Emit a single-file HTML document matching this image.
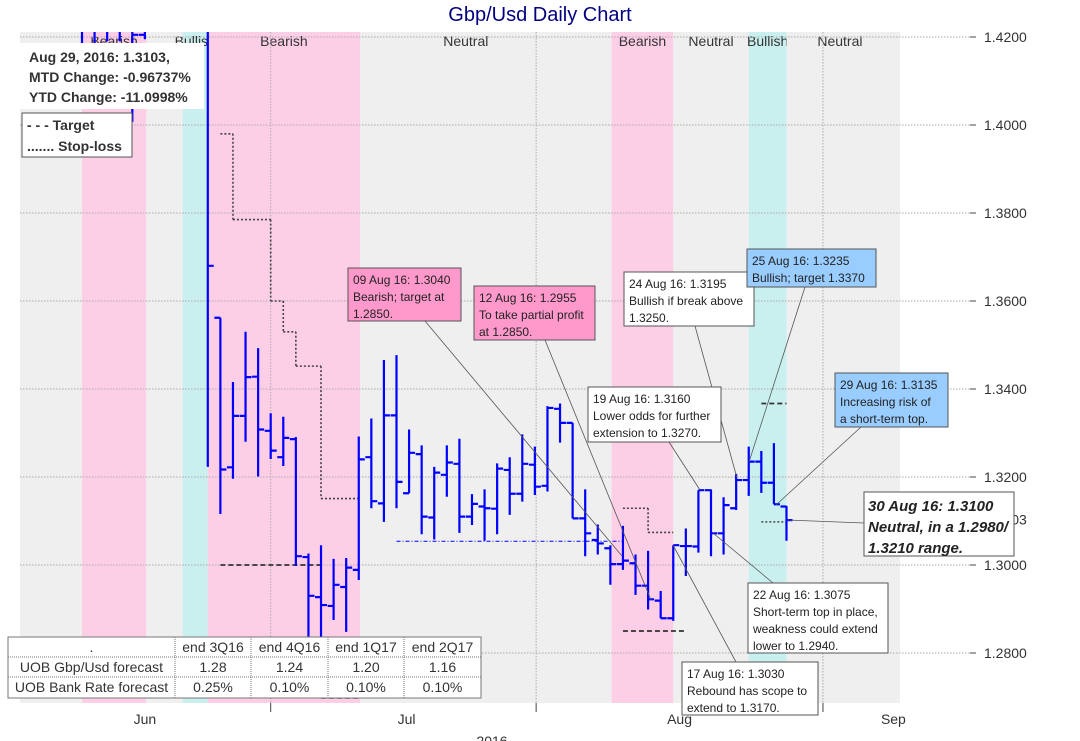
<!DOCTYPE html>
<html><head><meta charset="utf-8">
<style>
html,body{margin:0;background:#fff;overflow:hidden;}
svg{display:block;font-family:"Liberation Sans",sans-serif;}
.ann{font-size:12px;fill:#222;}
.annbig{font-size:15px;font-weight:bold;font-style:italic;fill:#222;}
.band{font-size:14px;fill:#333;}
.ax{font-size:14px;fill:#333;}
.tb{font-size:14px;fill:#333;}
</style></head>
<body>
<svg id="chart" width="1080" height="741" viewBox="0 0 1080 741">
<defs><clipPath id="plotclip"><rect x="20" y="32" width="880" height="671"/></clipPath></defs>
<g id="bg"></g>
<g id="grid"></g>
<g id="lines" clip-path="url(#plotclip)"></g>
<g id="bars" clip-path="url(#plotclip)"></g>
<g id="axis"></g>
<g id="anns"></g>
<text x="540" y="21" text-anchor="middle" font-size="20" fill="#000080">Gbp/Usd Daily Chart</text>
<g>
<rect x="20" y="43" width="184" height="66" fill="#fff"/>
<text x="29" y="62" font-size="14" font-weight="bold" fill="#333">Aug 29, 2016:  1.3103,</text>
<text x="29" y="82" font-size="14" font-weight="bold" fill="#333">MTD Change:  -0.96737%</text>
<text x="29" y="102" font-size="14" font-weight="bold" fill="#333">YTD Change:  -11.0998%</text>
</g>
<g>
<rect x="22" y="113" width="110" height="44" fill="#fff" stroke="#555"/>
<text x="27" y="130" font-size="14" font-weight="bold" fill="#333">- - -  Target</text>
<text x="27" y="151" font-size="14" font-weight="bold" fill="#333">....... Stop-loss</text>
</g>
<g id="table"></g>
</svg>
<script>
// ---- data ----
const opens  = [1.4300,1.4260,1.4280,1.4230,1.4280,1.4205,1.4260,1.4350,1.4400,1.4650,1.4877,1.3562,1.3222,1.3339,1.3428,1.3305,1.3245,1.3286,1.3018,1.2927,1.2907,1.2950,1.2989,1.3245,1.3140,1.3340,1.3163,1.3252,1.3108,1.3205,1.3230,1.3110,1.3133,1.3128,1.3216,1.3162,1.3228,1.3180,1.3355,1.3323,1.3106,1.3057,1.3038,1.3002,1.3004,1.2953,1.2919,1.2879,1.3043,1.3042,1.3170,1.3072,1.3129,1.3193,1.3235,1.3187,1.3133];
const highs  = [1.4350,1.4320,1.4350,1.4300,1.4310,1.4290,1.4400,1.4500,1.4700,1.4880,1.5018,1.3562,1.3416,1.3530,1.3493,1.3345,1.3337,1.3291,1.3026,1.3045,1.3014,1.3016,1.3292,1.3333,1.3466,1.3477,1.3308,1.3272,1.3223,1.3272,1.3287,1.3161,1.3172,1.3231,1.3245,1.3297,1.3269,1.3361,1.3367,1.3323,1.3172,1.3092,1.3045,1.3089,1.3024,1.3032,1.2941,1.3045,1.3083,1.3170,1.3172,1.3154,1.3207,1.3269,1.3259,1.3277,1.3134];
const lows   = [1.4186,1.4186,1.4190,1.4190,1.4007,1.4195,1.4230,1.4300,1.4350,1.4600,1.3223,1.3116,1.3196,1.3280,1.3201,1.3241,1.3225,1.2998,1.2820,1.2800,1.2875,1.2848,1.2966,1.3129,1.3098,1.3129,1.3163,1.3070,1.3058,1.3155,1.3073,1.3091,1.3055,1.3070,1.3114,1.3144,1.3159,1.3167,1.3278,1.3106,1.3020,1.3024,1.2955,1.2989,1.2932,1.2899,1.2879,1.2873,1.2975,1.3028,1.3020,1.3024,1.3125,1.3157,1.3164,1.3138,1.3055];
const closes = [1.4250,1.4300,1.4230,1.4280,1.4205,1.4260,1.4350,1.4400,1.4650,1.4877,1.3680,1.3217,1.3339,1.3427,1.3308,1.3260,1.3289,1.3020,1.2930,1.2909,1.2955,1.2994,1.3240,1.3145,1.3340,1.3189,1.3255,1.3110,1.3210,1.3233,1.3110,1.3139,1.3129,1.3219,1.3162,1.3230,1.3178,1.3357,1.3323,1.3106,1.3072,1.3049,1.3002,1.3010,1.2953,1.2922,1.2879,1.3045,1.3043,1.3170,1.3072,1.3136,1.3193,1.3235,1.3187,1.3138,1.3102];
const yTicks = [1.42,1.40,1.38,1.36,1.34,1.32,1.30,1.28];
const yTickLabels = ["1.4200","1.4000","1.3800","1.3600","1.3400","1.3200","1.3000","1.2800"];
const lastLabel = "1.3103";
const lastValue = 1.3103;
// stop-loss steps: [startBar, endBar, level]
const stopLoss = [[11,12,1.3980],[12,15,1.3785],[15,16,1.3600],[16,17,1.3530],[17,19,1.3452],[19,22,1.3151],[43,45,1.3129],[45,47,1.3074],[54,56,1.3098]];
const targets  = [[11,19,1.3000],[19,22,1.2698],[43,48,1.2850],[54,56,1.3367]];
const supportLine = [25,43,1.3054];
// regime bands: [startBar, endBar, type, label]
const bands = [[0,5.1,"bear","Bearish"],[8,10,"bull","Bullish"],[10,22.1,"bear","Bearish"],[22.1,42.1,"neut","Neutral"],[42.1,47,"bear","Bearish"],[47,53,"neut","Neutral"],[53,56,"bull","Bullish"],[56,64.5,"neut","Neutral"]];
const months = ["Jun","Jul","Aug","Sep"];
const monthPos = [5,25.8,47.5,64.5];
const monthTicks = [15,36.1,58.9];

// ---- axes ----
const X0=82, DX=12.58;
function xs(k){return X0+k*DX;}
function ys(v){return 37+(1.42-v)*4400;}
const NS="http://www.w3.org/2000/svg";
function mk(parent,tag,attrs){const e=document.createElementNS(NS,tag);for(const a in attrs)e.setAttribute(a,attrs[a]);parent.appendChild(e);return e;}

const bg=document.getElementById('bg');
let r=mk(bg,'rect',{x:20,y:32,width:880,height:671,fill:'#efefef'});


const bandColor={bear:'#fdcfe7',bull:'#c9f0ef',neut:'#efefef'};
bands.forEach((b,i)=>{
  const xa=Math.max(20,xs(b[0])), xb=Math.min(900,xs(b[1]));
  const rc=mk(bg,'rect',{x:xa,y:32,width:Math.max(0,xb-xa),height:671,fill:bandColor[b[2]]});
  
  
  let cx=(xa+xb)/2; if(b[3]=="Neutral"&&i==3) cx-=20;
  const t=mk(bg,'text',{x:cx,y:46,'text-anchor':'middle',class:'band'});
  t.textContent=b[3];
  
  
});

const grid=document.getElementById('grid');
yTicks.forEach(v=>{
  const l=mk(grid,'line',{x1:20,x2:970,y1:ys(v),y2:ys(v),stroke:'#aaa','stroke-dasharray':'1.5,1.5','stroke-width':1});
  
  
});
monthTicks.forEach(k=>{
  const l=mk(grid,'line',{x1:xs(k),x2:xs(k),y1:32,y2:703,stroke:'#aaa','stroke-dasharray':'1.5,1.5'});
  
  
  const t=mk(grid,'line',{x1:xs(k),x2:xs(k),y1:703,y2:712,stroke:'#444'});
  
  
});

const ax=document.getElementById('axis');
yTicks.forEach((v,i)=>{
  mk(ax,'line',{x1:970,x2:976,y1:ys(v),y2:ys(v),stroke:'#444'});
  const t=mk(ax,'text',{x:984,y:ys(v)+5,class:'ax'});
  t.textContent=yTickLabels[i];
  
  
});
{const t=mk(ax,'text',{x:984,y:ys(lastValue)+5,class:'ax'});t.textContent=lastLabel;

}
months.forEach((m,i)=>{
  const t=mk(ax,'text',{x:xs(monthPos[i]),y:724,'text-anchor':'middle',class:'ax'});
  t.textContent=m;
  
  
});
{const t=mk(ax,'text',{x:492,y:746,'text-anchor':'middle',class:'ax'});t.textContent='2016';

}

const lines=document.getElementById('lines');
let prev=null;
stopLoss.forEach(s=>{
  const p=mk(lines,'path',{d:'M'+xs(s[0])+','+ys(s[2])+'H'+xs(s[1]),stroke:'#444','stroke-width':1.6,'stroke-dasharray':'2,2',fill:'none'});
  
  
  if(prev&&prev[1]==s[0]){const v=mk(lines,'path',{d:'M'+xs(s[0])+','+ys(prev[2])+'V'+ys(s[2]),stroke:'#444','stroke-width':1.6,'stroke-dasharray':'2,2',fill:'none'});
  
  }
  prev=s;
});
prev=null;
targets.forEach(s=>{
  const p=mk(lines,'path',{d:'M'+xs(s[0])+','+ys(s[2])+'H'+xs(s[1]),stroke:'#333','stroke-width':1.8,'stroke-dasharray':'5,3',fill:'none'});
  
  
  if(prev&&prev[1]==s[0]){const v=mk(lines,'path',{d:'M'+xs(s[0])+','+ys(prev[2])+'V'+ys(s[2]),stroke:'#333','stroke-width':1.8,'stroke-dasharray':'5,3',fill:'none'});
  
  }
  prev=s;
});
{const p=mk(lines,'path',{d:'M'+xs(supportLine[0])+','+ys(supportLine[2])+'H'+xs(supportLine[1]),stroke:'#0000ff','stroke-width':1,'stroke-dasharray':'4,2,1,2',fill:'none'});

}

const bars=document.getElementById('bars');
opens.forEach((o,k)=>{
  const x=xs(k);
  const d='M'+x+','+ys(highs[k])+'V'+ys(lows[k])+'M'+(x-6)+','+ys(o)+'H'+x+'M'+x+','+ys(closes[k])+'H'+(x+6);
  const p=mk(bars,'path',{d:d,stroke:'#0000ff','stroke-width':2.2,fill:'none'});
  
  
});

// annotations: [x,y,w,h,fill,textLines,fromX,fromY,toX,toY,big]
const anns=[
 [348,268,113,53,'#ff99cc',["09 Aug 16: 1.3040","Bearish; target at","1.2850."],425,321,622,556,false],
 [474,286,121,54,'#ff99cc',["12 Aug 16:  1.2955","To take partial profit","at 1.2850."],545,340,651,600,false],
 [624,272,130,54,'#ffffff',["24 Aug 16: 1.3195","Bullish if break above","1.3250."],695,326,737,478,false],
 [747,249,129,38,'#99ccff',["25 Aug 16: 1.3235","Bullish; target 1.3370"],805,287,749,462,false],
 [588,387,133,55,'#ffffff',["19 Aug 16: 1.3160","Lower odds for further","extension to 1.3270."],669,442,700,490,false],
 [835,373,113,54,'#99ccff',["29 Aug 16: 1.3135","Increasing risk of","a short-term top."],861,427,776,505,false],
 [748,583,140,70,'#ffffff',["22 Aug 16: 1.3075","Short-term top in place,","weakness could extend","lower to 1.2940."],773,583,713,533,false],
 [682,662,136,53,'#ffffff',["17 Aug 16: 1.3030","Rebound has scope to","extend to 1.3170."],736,662,673,545,false],
 [864,492,150,64,'#ffffff',["30 Aug 16: 1.3100","Neutral, in a 1.2980/","1.3210 range."],864,523,787,520,true]
];
const ag=document.getElementById('anns');
anns.forEach(a=>{
  const l=mk(ag,'line',{x1:a[6],y1:a[7],x2:a[8],y2:a[9],stroke:'#555','stroke-width':0.8});
  
  
});
anns.forEach(a=>{
  const g=mk(ag,'g',{});
  
  
  mk(g,'rect',{x:a[0],y:a[1],width:a[2],height:a[3],fill:a[4],stroke:'#555','stroke-width':1});
  const big=a[10];
  a[5].forEach((s,i)=>{
    const t=mk(g,'text',{x:a[0]+(big?4:5),y:a[1]+(big?19:16)+i*(big?21:17),class:big?'annbig':'ann'});
    t.textContent=s;
  });
});

// table
const tRows=[[".","end 3Q16","end 4Q16","end 1Q17","end 2Q17"],["UOB Gbp/Usd forecast","1.28","1.24","1.20","1.16"],["UOB Bank Rate forecast","0.25%","0.10%","0.10%","0.10%"]];
const tCols=[8,175,251,328,404,481];
const tY=[637,657,677,698];
const tg=document.getElementById('table');
mk(tg,'rect',{x:8,y:637,width:473,height:61,fill:'#fff',stroke:'#777'});
for(let i=1;i<5;i++) mk(tg,'line',{x1:tCols[i],x2:tCols[i],y1:637,y2:698,stroke:'#777','stroke-dasharray':'1,1'});
for(let j=1;j<3;j++) mk(tg,'line',{x1:8,x2:481,y1:tY[j],y2:tY[j],stroke:'#777','stroke-dasharray':'1,1'});
tRows.forEach((row,j)=>row.forEach((c,i)=>{
  const t=mk(tg,'text',{x:(tCols[i]+tCols[i+1])/2,y:tY[j]+15,'text-anchor':'middle',class:'tb'});
  t.textContent=c;
  
  
}));
</script>
</body></html>
